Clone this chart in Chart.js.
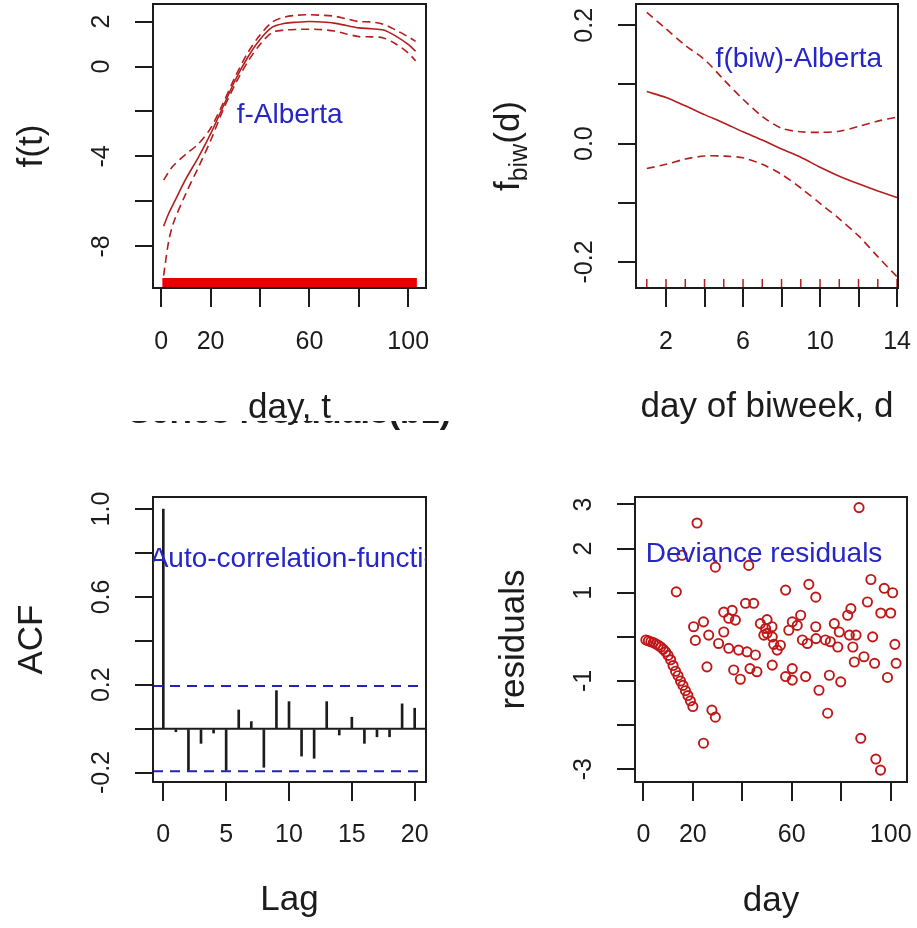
<!DOCTYPE html>
<html>
<head>
  <script src="https://cdn.jsdelivr.net/npm/chart.js@4.4.1/dist/chart.umd.min.js"></script>
  <style>
    body { margin: 0; background: #fff; }
    #page { position: relative; width: 917px; height: 928px; overflow: hidden; background: #fff; }
    canvas { position: absolute; }
  </style>
</head>
<body>
  <div id="page">
    <canvas id="acfChart" width="458" height="528" style="left:0;top:400px;z-index:1"></canvas>
    <canvas id="residChart" width="459" height="528" style="left:458px;top:400px;z-index:1"></canvas>
    <canvas id="dayChart" width="458" height="440" style="left:0;top:0;z-index:2"></canvas>
    <canvas id="biwChart" width="459" height="440" style="left:458px;top:0;z-index:2"></canvas>
  </div>
  <script>
    // smooth of day, f(t), with its two standard-error bands
    const tDays  = [1, 3, 5, 10, 15, 20, 25, 30, 35, 40, 45, 50, 55, 60, 65, 70, 75, 80, 85, 90, 95, 100, 103];
    const tFit   = [-7.1, -6.55, -6.1, -5.0, -4.05, -3.0, -1.8, -0.6, 0.4, 1.2, 1.75, 1.92, 1.97, 2.0, 1.98, 1.93, 1.82, 1.72, 1.68, 1.62, 1.35, 0.98, 0.68];
    const tUpper = [-5.05, -4.7, -4.4, -3.9, -3.45, -2.75, -1.65, -0.45, 0.6, 1.4, 1.98, 2.2, 2.28, 2.3, 2.28, 2.24, 2.12, 2.0, 1.98, 1.88, 1.62, 1.32, 1.12];
    const tLower = [-9.3, -7.8, -6.95, -5.65, -4.5, -3.3, -1.95, -0.78, 0.2, 0.98, 1.52, 1.62, 1.65, 1.66, 1.64, 1.58, 1.45, 1.33, 1.32, 1.27, 1.0, 0.6, 0.25];
    const rugDays = [1, 2, 3, 4, 5, 6, 7, 8, 9, 10, 11, 12, 13, 14, 15, 16, 17, 18, 19, 20, 21, 22, 23, 24, 25, 26, 27, 28, 29, 30,
      31, 32, 33, 34, 35, 36, 37, 38, 39, 40, 41, 42, 43, 44, 45, 46, 47, 48, 49, 50, 51, 52, 53, 54, 55, 56, 57, 58, 59, 60,
      61, 62, 63, 64, 65, 66, 67, 68, 69, 70, 71, 72, 73, 74, 75, 76, 77, 78, 79, 80, 81, 82, 83, 84, 85, 86, 87, 88, 89, 90,
      91, 92, 93, 94, 95, 96, 97, 98, 99, 100, 101, 102, 103];

    // smooth of day of biweek
    const biwDays  = [1, 2, 3, 4, 5, 6, 7, 8, 9, 10, 11, 12, 13, 14];
    const biwFit   = [0.088, 0.078, 0.064, 0.049, 0.035, 0.020, 0.006, -0.009, -0.023, -0.040, -0.055, -0.068, -0.080, -0.091];
    const biwUpper = [0.222, 0.194, 0.166, 0.142, 0.108, 0.075, 0.046, 0.026, 0.020, 0.019, 0.021, 0.029, 0.038, 0.045];
    const biwLower = [-0.042, -0.035, -0.026, -0.021, -0.021, -0.024, -0.035, -0.052, -0.075, -0.101, -0.127, -0.156, -0.191, -0.225];

    // autocorrelation of the residuals
    const acfLags   = [0, 1, 2, 3, 4, 5, 6, 7, 8, 9, 10, 11, 12, 13, 14, 15, 16, 17, 18, 19, 20];
    const acfValues = [1.0, -0.014, -0.19, -0.067, -0.02, -0.19, 0.085, 0.032, -0.176, 0.173, 0.123, -0.125, -0.135, 0.123, -0.029, 0.052, -0.067, -0.037, -0.037, 0.113, 0.093];
    const acfBand = 0.194;

    // deviance residuals against day
    const residDay = [1, 2, 3, 4, 5, 6, 7, 8, 9, 10, 11, 12, 13, 14, 15, 16, 17, 18, 19, 20,
      13.3, 15.6, 21.7, 20.3, 24.3, 21.0, 26.4, 30.4, 25.7, 24.3, 27.7, 29.1, 29.1, 32.5, 32.5, 34.5, 35.9, 37.2, 34.5, 38.5,
      41.3, 44.6, 41.9, 45.3, 36.5, 39.2, 43.1, 45.9, 42.6, 47.3, 49.4, 48.7, 50.0, 50.0, 52.0, 52.1, 52.7, 54.1, 55.4, 52.1,
      57.5, 58.8, 60.2, 62.2, 63.6, 60.2, 60.2, 57.5, 64.3, 66.3, 66.9, 69.7, 69.7, 71.0, 65.6, 73.6, 75.6, 75.2, 79.8, 74.5,
      77.2, 79.2, 82.6, 83.9, 83.3, 86.0, 84.7, 78.6, 87.2, 92.0, 97.4, 100.8, 90.6, 96.0, 100.0, 92.7, 101.7, 102.2, 98.7, 93.5,
      89.2, 85.3, 87.9, 94.0, 95.9, 69.8];
    const residValue = [-0.07, -0.09, -0.11, -0.13, -0.16, -0.19, -0.23, -0.28, -0.34, -0.42, -0.52, -0.65, -0.78, -0.88, -1.0, -1.1, -1.22, -1.33, -1.45, -1.58,
      1.02, 1.85, 2.58, 0.23, 0.34, -0.08, 0.04, -0.15, -0.68, -2.41, -1.66, -1.82, 1.58, 0.11, 0.56, 0.42, 0.60, 0.38, -0.26, -0.30,
      0.76, 0.76, -0.34, -0.41, -0.75, -0.96, -0.72, -0.79, 1.62, 0.30, 0.19, 0.04, 0.39, 0.08, 0.23, 0.00, -0.17, -0.30, -0.19, -0.64,
      1.06, 0.15, 0.34, 0.26, 0.49, -0.72, -0.98, -0.90, -0.07, -0.15, 1.19, 0.90, 0.23, -1.21, -0.90, -0.07, -0.11, -0.87, -1.02, -1.73,
      0.30, 0.11, 0.49, 0.64, 0.04, 0.04, -0.23, -0.23, 2.93, 1.30, 1.10, 1.00, 0.79, 0.54, 0.54, 0.00, -0.17, -0.60, -0.92, -0.60,
      -0.45, -0.57, -2.30, -2.77, -3.02, -0.04];

    const FONT = '"Liberation Sans", Arial, Helvetica, sans-serif';
    const INK = '#1c1c1c';
    const LINE_RED = '#b41e1e';
    const NOTE_BLUE = '#2626c8';

    Chart.defaults.font.family = FONT;
    Chart.defaults.animation = false;
    Chart.defaults.responsive = false;
    Chart.defaults.events = [];
    Chart.defaults.plugins.legend.display = false;
    Chart.defaults.plugins.tooltip.enabled = false;

    function xScale(min, max, ticks, labels, pad) {
      return {
        type: 'linear', min, max, offset: false,
        afterBuildTicks: s => { s.ticks = ticks.map(v => ({ value: v })); },
        afterFit: s => { s.height = 100; s.paddingLeft = 0; s.paddingRight = 0; },
        grid: { drawOnChartArea: false, drawTicks: true, tickLength: 19, color: INK, lineWidth: 2, offset: false },
        border: { display: false },
        ticks: {
          autoSkip: false, maxRotation: 0, minRotation: 0, padding: pad, color: INK, font: { size: 25 },
          callback: v => labels[ticks.indexOf(v)] || ''
        }
      };
    }

    function yScale(min, max, ticks) {
      return {
        type: 'linear', min, max,
        afterBuildTicks: s => { s.ticks = ticks.map(v => ({ value: v })); },
        afterFit: s => { s.width = 30; s.paddingTop = 0; s.paddingBottom = 0; },
        grid: { drawOnChartArea: false, drawTicks: true, tickLength: 18, color: INK, lineWidth: 2 },
        border: { display: false },
        ticks: { display: false }
      };
    }

    // box, rotated y labels, axis titles and the blue note, R style
    function panelPlugin(p) {
      return {
        id: 'rPanel',
        beforeDraw(chart) {
          if (!p.whiteTo) return;
          const ctx = chart.ctx;
          ctx.save();
          ctx.fillStyle = '#fff';
          ctx.fillRect(0, 0, chart.width, p.whiteTo);
          ctx.restore();
        },
        afterDatasetsDraw(chart) {
          if (p.under) p.under(chart);
        },
        afterDraw(chart) {
          const { ctx, chartArea: a, scales: { x, y } } = chart;
          ctx.save();
          ctx.strokeStyle = INK;
          ctx.lineWidth = 2;
          ctx.strokeRect(a.left, a.top, a.right - a.left, a.bottom - a.top);

          ctx.fillStyle = INK;
          ctx.font = '25px ' + FONT;
          ctx.textAlign = 'center';
          ctx.textBaseline = 'middle';
          p.yTicks.forEach((v, i) => {
            if (!p.yLabels[i]) return;
            ctx.save();
            ctx.translate(a.left - 51, y.getPixelForValue(v));
            ctx.rotate(-Math.PI / 2);
            ctx.fillText(p.yLabels[i], 0, 0);
            ctx.restore();
          });

          ctx.font = '35px ' + FONT;
          ctx.textBaseline = 'alphabetic';
          ctx.fillText(p.xTitle, (a.left + a.right) / 2, p.xTitleY);
          if (p.drawYTitle) {
            p.drawYTitle(ctx, a);
          } else {
            ctx.save();
            ctx.translate(a.left - 121, (a.top + a.bottom) / 2);
            ctx.rotate(-Math.PI / 2);
            ctx.textBaseline = 'middle';
            ctx.fillText(p.yTitle, 0, 0);
            ctx.restore();
          }

          ctx.save();
          if (p.note.clip) {
            ctx.beginPath();
            ctx.rect(a.left, a.top, a.right - a.left, a.bottom - a.top);
            ctx.clip();
          }
          ctx.fillStyle = NOTE_BLUE;
          ctx.font = '28px ' + FONT;
          ctx.textBaseline = 'alphabetic';
          ctx.fillText(p.note.text, x.getPixelForValue(p.note.x), y.getPixelForValue(p.note.y) + 10);
          ctx.restore();
          ctx.restore();
        }
      };
    }

    function rug(chart, days, len, color, width) {
      const { ctx, chartArea: a, scales: { x } } = chart;
      ctx.save();
      ctx.strokeStyle = color;
      ctx.lineWidth = width;
      ctx.beginPath();
      days.forEach(d => {
        const px = x.getPixelForValue(d);
        ctx.moveTo(px, a.bottom);
        ctx.lineTo(px, a.bottom - len);
      });
      ctx.stroke();
      ctx.restore();
    }

    function curve(xs, ys, dashed) {
      return {
        data: xs.map((v, i) => ({ x: v, y: ys[i] })),
        borderColor: LINE_RED, borderWidth: 1.6, borderDash: dashed ? [8, 5] : [],
        pointRadius: 0, tension: 0.3, fill: false
      };
    }

    // top left: f(t)
    new Chart(document.getElementById('dayChart'), {
      type: 'line',
      data: { datasets: [curve(tDays, tFit, false), curve(tDays, tUpper, true), curve(tDays, tLower, true)] },
      options: {
        layout: { padding: { left: 123, right: 32, top: 4, bottom: 52 } },
        scales: {
          x: xScale(-3.3, 107.2, [0, 20, 40, 60, 80, 100], ['0', '20', '', '60', '', '100'], 20),
          y: yScale(-9.85, 2.78, [-8, -6, -4, -2, 0, 2])
        }
      },
      plugins: [panelPlugin({
        whiteTo: 421,
        yTicks: [-8, -6, -4, -2, 0, 2], yLabels: ['-8', '', '-4', '', '0', '2'],
        xTitle: 'day, t', xTitleY: 418, yTitle: 'f(t)',
        note: { text: 'f-Alberta', x: 52, y: -2.05 },
        under: chart => rug(chart, rugDays, 10, '#e80000', 2.5)
      })]
    });

    // top right: f_biw(d)
    new Chart(document.getElementById('biwChart'), {
      type: 'line',
      data: { datasets: [curve(biwDays, biwFit, false), curve(biwDays, biwUpper, true), curve(biwDays, biwLower, true)] },
      options: {
        layout: { padding: { left: 148, right: 19, top: 4, bottom: 52 } },
        scales: {
          x: xScale(0.44, 14.05, [2, 4, 6, 8, 10, 12, 14], ['2', '', '6', '', '10', '', '14'], 20),
          y: yScale(-0.244, 0.236, [-0.2, -0.1, 0, 0.1, 0.2])
        }
      },
      plugins: [panelPlugin({
        whiteTo: 421,
        yTicks: [-0.2, -0.1, 0, 0.1, 0.2], yLabels: ['-0.2', '', '0.0', '', '0.2'],
        xTitle: 'day of biweek, d', xTitleY: 417,
        drawYTitle: (ctx, a) => {
          ctx.save();
          ctx.translate(a.left - 129, (a.top + a.bottom) / 2);
          ctx.rotate(-Math.PI / 2);
          ctx.textAlign = 'left';
          ctx.textBaseline = 'alphabetic';
          ctx.font = '35px ' + FONT;
          const wf = ctx.measureText('f').width, wd = ctx.measureText('(d)').width;
          ctx.font = '25px ' + FONT;
          const ws = ctx.measureText('biw').width;
          const x0 = -(wf + ws + wd) / 2;
          ctx.font = '35px ' + FONT;
          ctx.fillText('f', x0, 12);
          ctx.font = '25px ' + FONT;
          ctx.fillText('biw', x0 + wf, 20);
          ctx.font = '35px ' + FONT;
          ctx.fillText('(d)', x0 + wf + ws, 12);
          ctx.restore();
        },
        note: { text: 'f(biw)-Alberta', x: 8.9, y: 0.147 },
        under: chart => rug(chart, biwDays, 9, LINE_RED, 1.5)
      })]
    });

    // bottom left: ACF of residuals
    new Chart(document.getElementById('acfChart'), {
      type: 'bar',
      data: {
        datasets: [{
          data: acfLags.map((l, i) => ({ x: l, y: acfValues[i] })),
          backgroundColor: INK, borderWidth: 0, barThickness: 2
        }]
      },
      options: {
        layout: { padding: { left: 123, right: 32, top: 97, bottom: 46 } },
        scales: {
          x: xScale(-0.82, 20.9, [0, 5, 10, 15, 20], ['0', '5', '10', '15', '20'], 19),
          y: yScale(-0.243, 1.055, [-0.2, 0, 0.2, 0.4, 0.6, 0.8, 1.0])
        }
      },
      plugins: [panelPlugin({
        yTicks: [-0.2, 0, 0.2, 0.4, 0.6, 0.8, 1.0], yLabels: ['-0.2', '', '0.2', '', '0.6', '', '1.0'],
        xTitle: 'Lag', xTitleY: 510, yTitle: 'ACF',
        note: { text: 'Auto-correlation-function', x: 11.05, y: 0.78, clip: true },
        under: chart => {
          const { ctx, chartArea: a, scales: { y } } = chart;
          ctx.save();
          ctx.strokeStyle = INK;
          ctx.lineWidth = 2;
          ctx.beginPath();
          ctx.moveTo(a.left, y.getPixelForValue(0));
          ctx.lineTo(a.right, y.getPixelForValue(0));
          ctx.stroke();
          ctx.strokeStyle = '#2424b4';
          ctx.setLineDash([10, 7]);
          [acfBand, -acfBand].forEach(b => {
            ctx.beginPath();
            ctx.moveTo(a.left, y.getPixelForValue(b));
            ctx.lineTo(a.right, y.getPixelForValue(b));
            ctx.stroke();
          });
          ctx.setLineDash([]);
          // main title, only its lowest strip shows under the panel above
          ctx.beginPath();
          ctx.rect(0, 21, chart.width, 20);
          ctx.clip();
          ctx.fillStyle = INK;
          ctx.font = 'bold 34px ' + FONT;
          ctx.textAlign = 'center';
          ctx.textBaseline = 'alphabetic';
          ctx.fillText('Series residuals(b1)', (a.left + a.right) / 2, 23);
          ctx.restore();
        }
      })]
    });

    // bottom right: deviance residuals
    new Chart(document.getElementById('residChart'), {
      type: 'scatter',
      data: {
        datasets: [{
          data: residDay.map((d, i) => ({ x: d, y: residValue[i] })),
          pointStyle: 'circle', pointRadius: 4.6, borderWidth: 1.9,
          borderColor: '#c01818', backgroundColor: 'rgba(0,0,0,0)'
        }]
      },
      options: {
        layout: { padding: { left: 147, right: 10, top: 97, bottom: 46 } },
        scales: {
          x: xScale(-3.4, 106.6, [0, 20, 40, 60, 80, 100], ['0', '20', '', '60', '', '100'], 19),
          y: yScale(-3.29, 3.17, [-3, -2, -1, 0, 1, 2, 3])
        }
      },
      plugins: [panelPlugin({
        yTicks: [-3, -2, -1, 0, 1, 2, 3], yLabels: ['-3', '', '-1', '', '1', '2', '3'],
        xTitle: 'day', xTitleY: 511, yTitle: 'residuals',
        note: { text: 'Deviance residuals', x: 48.8, y: 1.92 }
      })]
    });
  </script>
</body>
</html>
